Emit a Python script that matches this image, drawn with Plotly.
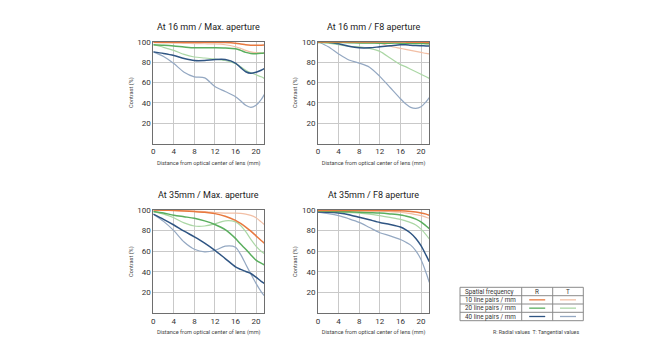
import plotly.graph_objects as go

# ---------------- data ----------------
x_mm = [0, 2, 4, 6, 8, 10, 12, 14, 16, 17, 18, 19, 20, 21, 21.6]

titles = ["At 16 mm / Max. aperture", "At 16 mm / F8 aperture",
          "At 35mm / Max. aperture", "At 35mm / F8 aperture"]

# 16mm Max aperture
p1_R10 = [99.5, 99.5, 99.5, 99.5, 99.5, 99.5, 99.4, 99.2, 98.5, 97.8, 97.0, 96.6, 96.5, 96.6, 96.7]
p1_T10 = [99, 98.8, 98.6, 98.4, 98.2, 98, 97.8, 97, 95, 93.5, 91.5, 90, 89.2, 88.8, 88.8]
p1_R20 = [97, 96.5, 95.8, 94.8, 94, 94, 94, 93.8, 93, 91.5, 89.5, 88.5, 88.2, 88.6, 89]
p1_T20 = [97, 94.5, 91.5, 87.5, 85, 84, 83, 81.5, 78.5, 75.5, 72, 69.5, 67.5, 65.5, 64]
p1_R40 = [90, 88.5, 86.5, 83.5, 81.5, 81.5, 82.5, 82.5, 79, 74.5, 70.5, 69, 70, 72, 73.5]
p1_T40 = [90, 85.5, 78.5, 70, 65.5, 64.5, 56, 51, 46, 42, 37.5, 35.5, 37.5, 43, 48]

# 16mm F8
p2_R10 = [99.8, 99.8, 99.8, 99.8, 99.8, 99.8, 99.8, 99.8, 99.7, 99.6, 99.5, 99.5, 99.4, 99.3, 99.2]
p2_T10 = [99.6, 99.5, 99.4, 99.2, 99, 98.8, 98.5, 95.5, 93.5, 92.5, 91.5, 90.5, 89.5, 88.5, 88]
p2_R20 = [99.3, 99.3, 99.2, 99, 98.8, 98.7, 98.6, 98.6, 98.6, 98.5, 98.4, 98.3, 98.2, 98.1, 98]
p2_T20 = [100, 98.5, 97, 95.5, 95, 93.5, 90.5, 84, 77.5, 75.5, 73, 70.5, 68, 65.5, 64]
p2_R40 = [100, 99.5, 98, 95.5, 94, 94, 95, 96, 97, 97, 96.5, 96.2, 96, 95.8, 95.7]
p2_T40 = [100, 95, 88, 82, 79, 75, 66, 55, 44, 39, 35.5, 34.5, 36, 41, 45]

# 35mm Max aperture
p3_R10 = [100, 99.8, 99.5, 99, 98.5, 97.8, 96.5, 94, 90, 87, 83.5, 79.5, 75, 70.5, 68]
p3_T10 = [100, 99.8, 99.5, 99.2, 99, 98.5, 97.5, 97, 97, 96.8, 96, 94.8, 92.5, 88.5, 86]
p3_R20 = [98.5, 97, 95, 93.5, 92, 89.5, 86, 81, 72.5, 67, 62, 56.5, 51.5, 48.5, 47]
p3_T20 = [98.5, 96, 92.5, 87.5, 84.5, 84.5, 86.5, 89.5, 88.5, 85, 79, 71.5, 65, 60, 58]
p3_R40 = [96, 91, 85.5, 79.5, 74, 68, 61, 53, 45, 42.5, 40.5, 38.5, 35, 31, 29]
p3_T40 = [96, 89, 80, 69, 62, 59.5, 61, 65, 64, 57, 47.5, 38, 29, 21, 17]

# 35mm F8
p4_R10 = [99.6, 99.6, 99.6, 99.6, 99.6, 99.6, 99.5, 99.4, 99.2, 99, 98.6, 98, 97.2, 96, 95]
p4_T10 = [99.3, 99.3, 99.3, 99.2, 99.1, 99, 98.8, 98.4, 97.8, 97.2, 96.5, 95.5, 94.5, 93, 92]
p4_R20 = [99, 98.8, 98.5, 98.2, 97.8, 97.4, 97, 96.2, 95.2, 94.2, 93, 91.2, 88.5, 84.5, 82]
p4_T20 = [98.5, 98.3, 98, 97.5, 97, 96, 94.5, 92.8, 91, 89.5, 87.8, 85.5, 81.5, 76, 72]
p4_R40 = [98, 97.8, 97, 95.5, 93, 90.5, 88, 86, 83.5, 81, 77.5, 72.5, 65.5, 56, 50]
p4_T40 = [98, 96.5, 94.5, 91.5, 88, 83, 78, 75, 71.5, 69, 66, 60.5, 52, 39, 30]

panels = [
    [p1_R10, p1_T10, p1_R20, p1_T20, p1_R40, p1_T40],
    [p2_R10, p2_T10, p2_R20, p2_T20, p2_R40, p2_T40],
    [p3_R10, p3_T10, p3_R20, p3_T20, p3_R40, p3_T40],
    [p4_R10, p4_T10, p4_R20, p4_T20, p4_R40, p4_T40],
]

x_ticks = [0, 4, 8, 12, 16, 20]
y_ticks = [20, 40, 60, 80, 100]
legend_rows = ["10 line pairs / mm", "20 line pairs / mm", "40 line pairs / mm"]

# ---------------- style ----------------
W, H = 660, 363
FONT = "Roboto"
series_colors = ["#e8793f", "#f2bfa5", "#5aae5e", "#abd7a5", "#2f5583", "#94a8c2"]
series_widths = [1.5, 1.2, 1.5, 1.2, 1.5, 1.2]
draw_order = [5, 3, 1, 4, 2, 0]

# pixel boxes: (x0, x_at_20, y_top, y_bottom)
boxes = [
    (153.3, 256.0, 41.7, 143.5),
    (318.0, 421.0, 41.7, 143.5),
    (153.3, 256.0, 210.0, 313.3),
    (318.0, 421.0, 210.0, 313.3),
]

fig = go.Figure()
layout = dict(
    width=W, height=H,
    margin=dict(l=0, r=0, t=0, b=0),
    paper_bgcolor="white", plot_bgcolor="white",
    showlegend=False,
    font=dict(family=FONT, color="#333333"),
)
annotations = []
shapes = []

for i, (box, data) in enumerate(zip(boxes, panels)):
    x0, x20, yt, yb = box
    ppm = (x20 - x0) / 20.0
    x1 = x0 + 21.6 * ppm
    xa = "x" if i == 0 else f"x{i+1}"
    ya = "y" if i == 0 else f"y{i+1}"
    xkey = "xaxis" if i == 0 else f"xaxis{i+1}"
    ykey = "yaxis" if i == 0 else f"yaxis{i+1}"
    layout[xkey] = dict(
        domain=[x0 / W, x1 / W], range=[0, 21.6], anchor=ya,
        tickvals=x_ticks, ticktext=[str(v) for v in x_ticks],
        showgrid=True, gridcolor="#c9c9c9", gridwidth=1,
        showline=True, linecolor="#6e6e6e", linewidth=1, mirror=True,
        zeroline=False, ticks="", tickfont=dict(size=8, color="#333"),
        title=dict(text="Distance from optical center of lens (mm)",
                   font=dict(size=5.6, color="#444"), standoff=5),
        fixedrange=True, automargin=False,
    )
    layout[ykey] = dict(
        domain=[1 - yb / H, 1 - yt / H], range=[0, 100], anchor=xa,
        tickvals=y_ticks, ticktext=[str(v) for v in y_ticks],
        showgrid=True, gridcolor="#c9c9c9", gridwidth=1,
        showline=True, linecolor="#6e6e6e", linewidth=1, mirror=True,
        zeroline=False, ticks="", tickfont=dict(size=8, color="#333"),
        title=dict(text="Contrast (%)", font=dict(size=5.6, color="#444"), standoff=3),
        fixedrange=True, automargin=False,
    )
    for k in draw_order:
        fig.add_trace(go.Scatter(
            x=x_mm, y=data[k], mode="lines", xaxis=xa, yaxis=ya,
            line=dict(color=series_colors[k], width=series_widths[k], shape="spline", smoothing=0.8),
            hoverinfo="skip",
        ))
    annotations.append(dict(
        text=titles[i], x=(x0 + x1) / 2 / W, y=1 - (yt - 14.5) / H,
        xref="paper", yref="paper", showarrow=False,
        font=dict(size=9, color="#222"), xanchor="center", yanchor="middle",
    ))

# ---------------- legend table ----------------
tx = [460.0, 521.7, 552.7, 583.3]
ty = [287.3, 295.7, 304.0, 312.3, 320.7]
def px(x): return x / W
def py(y): return 1 - y / H

shapes.append(dict(type="rect", xref="paper", yref="paper",
                   x0=px(tx[0]), x1=px(tx[3]), y0=py(ty[4]), y1=py(ty[0]),
                   line=dict(color="#8a8a8a", width=1)))
for yy in ty[1:4]:
    shapes.append(dict(type="line", xref="paper", yref="paper",
                       x0=px(tx[0]), x1=px(tx[3]), y0=py(yy), y1=py(yy),
                       line=dict(color="#8a8a8a", width=1)))
for xx in tx[1:3]:
    shapes.append(dict(type="line", xref="paper", yref="paper",
                       x0=px(xx), x1=px(xx), y0=py(ty[4]), y1=py(ty[0]),
                       line=dict(color="#8a8a8a", width=1)))

hdr = ["Spatial frequency", "R", "T"]
annotations.append(dict(text=hdr[0], x=px(tx[0] + 3), y=py((ty[0] + ty[1]) / 2),
                        xref="paper", yref="paper", showarrow=False, xanchor="left",
                        yanchor="middle", font=dict(size=6.3, color="#333")))
for c in (1, 2):
    annotations.append(dict(text=hdr[c], x=px((tx[c] + tx[c + 1]) / 2), y=py((ty[0] + ty[1]) / 2),
                            xref="paper", yref="paper", showarrow=False, xanchor="center",
                            yanchor="middle", font=dict(size=6.3, color="#333")))
for r, lab in enumerate(legend_rows):
    yc = (ty[r + 1] + ty[r + 2]) / 2
    annotations.append(dict(text=lab, x=px(tx[0] + 3), y=py(yc),
                            xref="paper", yref="paper", showarrow=False, xanchor="left",
                            yanchor="middle", font=dict(size=6.3, color="#333")))
    for c in (1, 2):
        col = series_colors[2 * r + (c - 1)]
        xc = (tx[c] + tx[c + 1]) / 2
        shapes.append(dict(type="line", xref="paper", yref="paper",
                           x0=px(xc - 8), x1=px(xc + 8), y0=py(yc), y1=py(yc),
                           line=dict(color=col, width=1.3)))

annotations.append(dict(text="R: Radial values  T: Tangential values", x=px(581), y=py(332.3),
                        xref="paper", yref="paper", showarrow=False, xanchor="right",
                        yanchor="middle", font=dict(size=5.3, color="#444")))

layout["annotations"] = annotations
layout["shapes"] = shapes
fig.update_layout(**layout)
fig.write_html("out.html", config={"displayModeBar": False},
               post_script="document.body.style.margin='0px';document.body.style.padding='0px';")
